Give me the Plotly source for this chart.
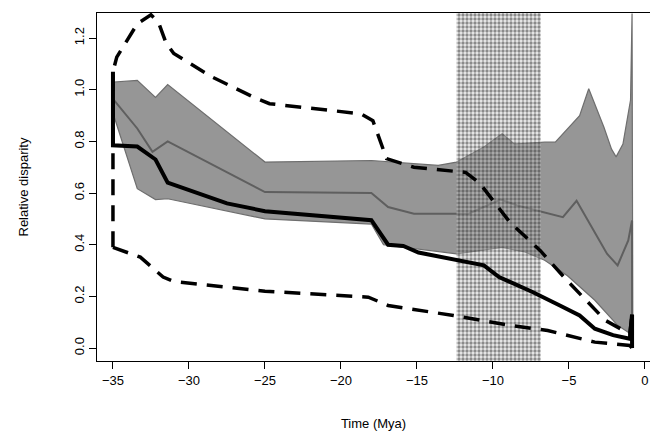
import plotly.graph_objects as go

# observed disparity (thick black)
obs_x = [-35, -35, -33.4, -32.2, -31.4, -29.5, -27.5, -25, -21.4, -18, -16.9, -15.9, -14.9, -13.1, -10.6, -9.6, -7.4, -5.6, -4.3, -3.3, -2.1, -1.0, -0.85, -0.85]
obs_y = [1.07, 0.785, 0.78, 0.73, 0.64, 0.6, 0.56, 0.53, 0.51, 0.495, 0.40, 0.395, 0.37, 0.35, 0.32, 0.275, 0.217, 0.165, 0.126, 0.075, 0.05, 0.036, 0.13, 0.0]

# dashed envelope, upper and lower
up_x = [-35, -35, -34.75, -33.4, -32.5, -32, -31.5, -31, -28.5, -25.7, -24.7, -18.7, -17.9, -17, -15.2, -11.8, -10.9, -8.9, -6.9, -5.1, -2.6, -1.0, -0.85, -0.85]
up_y = [0.39, 1.07, 1.126, 1.255, 1.29, 1.26, 1.18, 1.14, 1.05, 0.97, 0.946, 0.907, 0.88, 0.733, 0.70, 0.68, 0.64, 0.488, 0.378, 0.26, 0.107, 0.055, 0.13, 0.0]
lo_x = [-35, -33.2, -31.7, -31, -25, -18.2, -16.9, -12.6, -8.9, -6.4, -3.3, -1.0, -0.85]
lo_y = [0.39, 0.352, 0.275, 0.258, 0.22, 0.197, 0.165, 0.126, 0.088, 0.068, 0.023, 0.01, 0.0]

# simulated band and median (grey)
bu_x = [-35, -34.9, -33.4, -32.2, -31.4, -25, -18, -13.6, -12.4, -10.6, -9.4, -8.6, -6.6, -5.9, -4.3, -3.7, -2.7, -2.2, -1.9, -1.45, -0.95, -0.85, -0.8]
bu_y = [1.0, 1.03, 1.036, 0.97, 1.02, 0.72, 0.726, 0.707, 0.72, 0.778, 0.83, 0.79, 0.797, 0.797, 0.9, 1.004, 0.855, 0.77, 0.74, 0.79, 0.96, 1.295, 0.0]
bl_x = [-35, -33.4, -32.2, -31.4, -25, -18, -17.2, -12.4, -9.4, -7.9, -6.6, -5.1, -3.3, -1.8, -0.95, -0.8]
bl_y = [0.91, 0.617, 0.575, 0.578, 0.5, 0.48, 0.40, 0.365, 0.39, 0.372, 0.34, 0.28, 0.185, 0.088, 0.055, 0.0]
med_x = [-35, -33.4, -32.4, -31.4, -25, -18, -16.9, -15.2, -11.6, -9.5, -8.4, -5.4, -4.5, -2.5, -1.8, -1.1, -0.85, -0.85]
med_y = [0.965, 0.85, 0.76, 0.8, 0.604, 0.6, 0.546, 0.52, 0.52, 0.575, 0.552, 0.507, 0.57, 0.365, 0.32, 0.417, 0.494, 0.055]

# stippled interval
win = [-12.4, -6.85]

fig = go.Figure()
fig.add_trace(go.Scatter(x=bu_x + bl_x[::-1], y=bu_y + bl_y[::-1], fill='toself',
                         fillcolor='rgb(150,150,150)', line=dict(color='rgb(110,110,110)', width=1.2),
                         mode='lines', hoverinfo='skip'))
fig.add_trace(go.Scatter(x=med_x, y=med_y, mode='lines', line=dict(color='rgb(95,95,95)', width=2)))
fig.add_trace(go.Scatter(x=[win[0], win[1], win[1], win[0], win[0]], y=[-0.05, -0.05, 1.3, 1.3, -0.05],
                         fill='toself', mode='none', fillcolor='rgba(200,200,200,0.4)',
                         fillpattern=dict(shape='.', fgcolor='rgb(40,40,40)', bgcolor='rgba(210,210,210,0.4)',
                                          size=4, solidity=0.55)))
fig.add_trace(go.Scatter(x=up_x, y=up_y, mode='lines', line=dict(color='black', width=3.5, dash='16px,10px')))
fig.add_trace(go.Scatter(x=lo_x, y=lo_y, mode='lines', line=dict(color='black', width=3.5, dash='16px,10px')))
fig.add_trace(go.Scatter(x=obs_x, y=obs_y, mode='lines', line=dict(color='black', width=4)))

ax = dict(showgrid=False, zeroline=False, showline=True, linecolor='black', linewidth=1, mirror=True,
          ticks='outside', ticklen=7, tickcolor='black', tickfont=dict(size=13, color='black'),
          automargin=False, ticklabeloverflow='allow')
fig.update_layout(
    width=642, height=423, showlegend=False,
    plot_bgcolor='white', paper_bgcolor='white',
    font=dict(family='Liberation Sans, Arial', color='black'),
    margin=dict(l=89, r=0, t=5, b=70),
    xaxis=dict(ax, range=[-36.05, 0.33], tickvals=[-35, -30, -25, -20, -15, -10, -5, 0],
               title=dict(text='Time (Mya)', font=dict(size=13), standoff=37)),
    yaxis=dict(ax, range=[-0.05, 1.297], tickvals=[0, 0.2, 0.4, 0.6, 0.8, 1.0, 1.2],
               ticktext=['0.0', '0.2', '0.4', '0.6', '0.8', '1.0', '1.2'], tickangle=-90,
               title=dict(text='Relative disparity', font=dict(size=13), standoff=40)),
)
fig.write_html("out.html")
